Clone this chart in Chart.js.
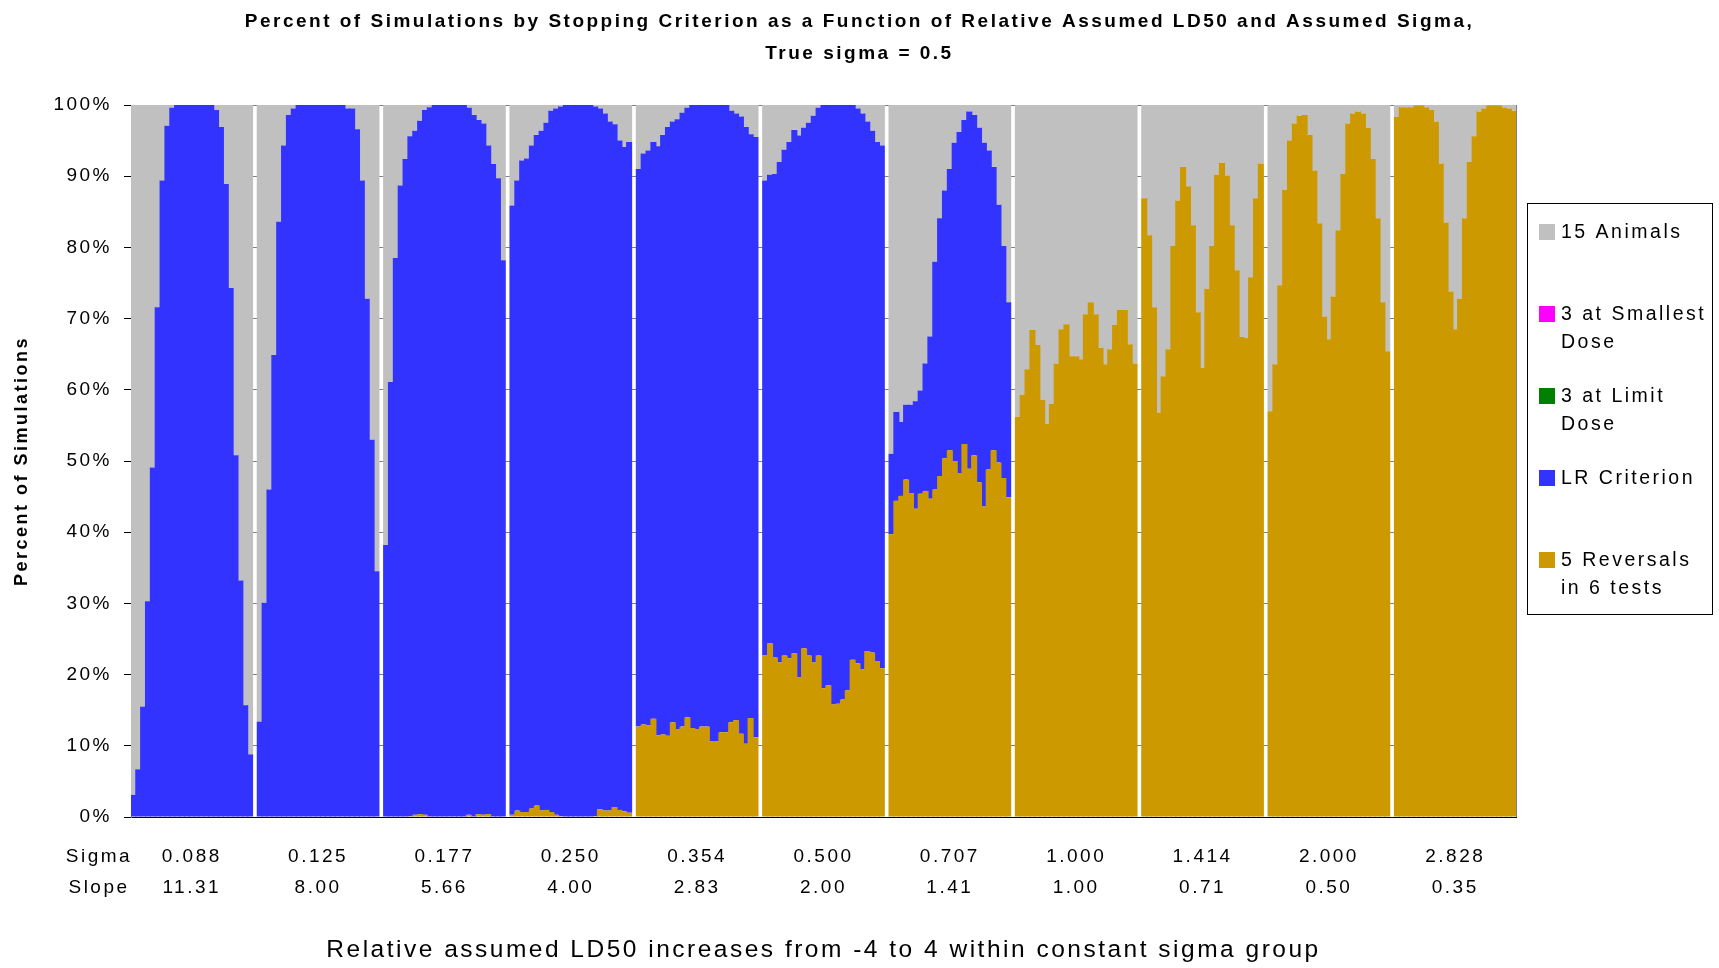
<!DOCTYPE html>
<html>
<head>
<meta charset="utf-8">
<title>Percent of Simulations by Stopping Criterion</title>
<script src="https://cdn.jsdelivr.net/npm/chart.js@4.4.1/dist/chart.umd.min.js"></script>
<style>
  body { margin: 0; background: #fff; }
  canvas { display: block; }
</style>
</head>
<body>
<canvas id="grafico" width="1719" height="968"></canvas>
<script>
// one group per assumed sigma, 25 bars each (relative assumed LD50 from -4 to 4)
const sigmas = ['0.088', '0.125', '0.177', '0.250', '0.354', '0.500', '0.707', '1.000', '1.414', '2.000', '2.828'];
const slopes = ['11.31', '8.00', '5.66', '4.00', '2.83', '2.00', '1.41', '1.00', '0.71', '0.50', '0.35'];

// percent of simulations
const reversals5 = [
    [0,0,0,0,0,0,0,0,0,0,0,0,0,0,0,0,0,0,0,0,0,0,0,0,0],
    [0,0,0,0,0,0,0,0,0,0,0,0,0,0,0,0,0,0,0,0,0,0,0,0,0],
    [0,0,0,0,0,0.1,0.3,0.4,0.3,0,0,0,0,0,0,0,0,0.3,0,0.4,0.3,0.4,0,0,0],
    [0.3,0.9,0.7,0.7,1.2,1.6,0.9,1.0,0.7,0.3,0.1,0,0,0,0,0,0,0.1,1.1,0.9,0.9,1.4,1.0,0.8,0.6],
    [12.7,13.0,12.9,13.8,11.5,11.6,11.4,13.3,12.3,12.7,14.0,12.5,12.3,12.7,12.7,10.6,10.6,11.9,11.9,13.3,13.6,11.7,10.3,13.9,11.2],
    [22.7,24.4,22.4,21.7,22.7,22.3,23.0,19.6,23.7,22.7,21.7,22.7,18.1,18.5,15.8,15.9,16.5,17.8,22.1,21.6,20.7,23.3,23.1,21.9,20.9],
    [39.7,44.4,45.1,47.4,45.5,43.3,45.4,45.8,44.7,46.0,47.9,50.4,51.5,50.0,48.3,52.4,48.9,50.8,47.0,43.6,48.8,51.5,49.8,47.6,44.9],
    [56.2,59.3,62.9,68.4,66.3,58.6,55.2,58.0,63.7,68.5,69.2,64.7,64.7,64.3,70.6,72.3,70.6,65.9,63.6,65.7,69.1,71.2,71.2,66.4,63.7],
    [86.9,81.7,71.6,56.8,61.9,65.7,80.2,86.6,91.3,88.6,83.1,70.9,63.1,74.2,80.2,90.2,91.9,90.1,83.1,76.8,67.4,67.3,75.8,86.9,91.8],
    [57.0,63.6,74.7,88.1,95.0,97.4,98.5,98.6,95.8,90.8,83.4,70.3,67.1,73.1,82.4,90.3,97.4,98.8,99.1,98.8,96.8,92.4,84.1,72.3,65.4],
    [98.3,99.7,99.7,99.7,99.9,99.9,99.7,99.3,97.7,91.8,83.5,73.8,68.5,72.8,84.1,92.0,95.6,99.1,99.5,99.9,99.9,99.9,99.6,99.5,99.2]
];
const lrCriterion = [
    [3.1,6.7,15.5,30.3,49.1,71.6,89.4,97.1,99.6,100,100,100,100,100,100,100,100,99.3,96.9,88.9,74.3,50.8,33.2,15.7,8.8],
    [13.4,30.1,46.0,64.9,83.6,94.3,98.6,99.5,100,100,100,100,100,100,100,100,100,100,99.5,99.5,96.6,89.4,72.8,53.0,34.5],
    [38.2,61.1,78.5,88.7,92.4,95.5,96.1,97.4,99.0,99.7,100,100,100,100,100,100,100,99.3,98.6,97.5,97.1,93.9,91.7,89.7,78.2],
    [85.6,88.5,91.5,91.8,93.1,94.2,95.5,96.5,98.5,99.2,99.7,100,100,100,100,100,100,99.7,98.4,97.9,96.8,95.9,94.0,93.3,94.2],
    [78.3,80.2,80.7,81.0,82.7,84.2,85.5,84.4,85.7,86.2,85.6,87.5,87.7,87.3,87.3,89.4,89.4,88.1,88.1,85.9,85.2,86.7,86.6,82.0,84.3],
    [66.7,65.8,67.9,70.3,71.0,72.5,73.5,76.1,73.1,74.8,76.8,76.9,81.9,81.5,84.2,84.1,83.5,82.2,77.9,77.9,78.1,74.4,73.3,72.9,73.4],
    [11.3,12.5,10.4,10.5,12.4,15.1,14.5,17.9,22.8,32.0,36.2,37.6,39.5,44.7,47.9,45.5,50.2,47.8,49.8,51.1,44.8,39.8,36.2,32.6,27.4],
    [], [], [], []
];
const animals15 = [
    [96.9,93.3,84.5,69.7,50.9,28.4,10.6,2.9,0.4,0,0,0,0,0,0,0,0,0.7,3.1,11.1,25.7,49.2,66.8,84.3,91.2],
    [86.6,69.9,54.0,35.1,16.4,5.7,1.4,0.5,0,0,0,0,0,0,0,0,0,0,0.5,0.5,3.4,10.6,27.2,47.0,65.5],
    [61.8,38.9,21.5,11.3,7.6,4.4,3.6,2.2,0.7,0.3,0,0,0,0,0,0,0,0.4,1.4,2.1,2.6,5.7,8.3,10.3,21.8],
    [14.1,10.6,7.8,7.5,5.7,4.2,3.6,2.5,0.8,0.5,0.2,0,0,0,0,0,0,0.2,0.5,1.2,2.3,2.7,5.0,5.9,5.2],
    [9.0,6.8,6.4,5.2,5.8,4.2,3.1,2.3,2.0,1.1,0.4,0,0,0,0,0,0,0,0,0.8,1.2,1.6,3.1,4.1,4.5],
    [10.6,9.8,9.7,8.0,6.3,5.2,3.5,4.3,3.2,2.5,1.5,0.4,0,0,0,0,0,0,0,0.5,1.2,2.3,3.6,5.2,5.7],
    [49.0,43.1,44.5,42.1,42.1,41.6,40.1,36.3,32.5,22.0,15.9,12.0,9.0,5.3,3.8,2.1,0.9,1.4,3.2,5.3,6.4,8.7,14.0,19.8,27.7],
    [43.8,40.7,37.1,31.6,33.7,41.4,44.8,42.0,36.3,31.5,30.8,35.3,35.3,35.7,29.4,27.7,29.4,34.1,36.4,34.3,30.9,28.8,28.8,33.6,36.3],
    [13.1,18.3,28.4,43.2,38.1,34.3,19.8,13.4,8.7,11.4,16.9,29.1,36.9,25.8,19.8,9.8,8.1,9.9,16.9,23.2,32.6,32.7,24.2,13.1,8.2],
    [43.0,36.4,25.3,11.9,5.0,2.6,1.5,1.4,4.2,9.2,16.6,29.7,32.9,26.9,17.6,9.7,2.6,1.2,0.9,1.2,3.2,7.6,15.9,27.7,34.6],
    [1.7,0.3,0.3,0.3,0.1,0.1,0.3,0.7,2.3,8.2,16.5,26.2,31.5,27.2,15.9,8.0,4.4,0.9,0.5,0.1,0.1,0.1,0.4,0.5,0.8]
];
// these two criteria never show up in any group
const smallestDose3 = [];
const limitDose3 = [];

const BARS = 25;
const SLOT = BARS + 1; // one empty slot between groups

// flatten the groups into one category axis, a blank slot between groups
function flatten(groups) {
    const out = [];
    for (let g = 0; g < sigmas.length; g++) {
        if (g > 0) out.push(null);
        const vals = groups[g] || [];
        for (let k = 0; k < BARS; k++) out.push(vals[k] ?? null);
    }
    return out;
}

const labels = [];
sigmas.forEach((s, g) => {
    if (g > 0) labels.push('');
    for (let k = 0; k < BARS; k++) labels.push(s);
});

Chart.defaults.font.family = '"Liberation Sans", Arial, sans-serif';
Chart.defaults.color = '#000';

const legendItems = [
    { lines: ['15 Animals'], color: '#C0C0C0', top: 224 },
    { lines: ['3 at Smallest', 'Dose'], color: '#FF00FF', top: 306 },
    { lines: ['3 at Limit', 'Dose'], color: '#008000', top: 388 },
    { lines: ['LR Criterion'], color: '#3333FF', top: 470 },
    { lines: ['5 Reversals', 'in 6 tests'], color: '#CC9900', top: 552 }
];

const extras = {
    id: 'extras',
    beforeDraw(chart) {
        chart.ctx.letterSpacing = '2.5px';
    },
    afterDraw(chart) {
        const ctx = chart.ctx;
        const area = chart.chartArea;
        ctx.save();
        // right edge of the plot area
        ctx.strokeStyle = '#808080';
        ctx.lineWidth = 1;
        ctx.beginPath();
        ctx.moveTo(Math.round(area.right) + 0.5, area.top);
        ctx.lineTo(Math.round(area.right) + 0.5, area.bottom);
        ctx.stroke();

        // row titles for the two-line category labels
        const xs = chart.scales.x;
        const y0 = xs.top + 24.5 + 15.5;
        ctx.fillStyle = '#000';
        ctx.font = '19px "Liberation Sans", Arial, sans-serif';
        ctx.textAlign = 'center';
        ctx.textBaseline = 'middle';
        ctx.fillText('Sigma', 99, y0);
        ctx.fillText('Slope', 99, y0 + 31);

        // legend box
        ctx.strokeStyle = '#000';
        ctx.strokeRect(1527.5, 203.5, 185, 411);
        ctx.textAlign = 'left';
        ctx.textBaseline = 'alphabetic';
        ctx.font = '19.5px "Liberation Sans", Arial, sans-serif';
        legendItems.forEach(item => {
            ctx.fillStyle = item.color;
            ctx.fillRect(1539, item.top, 16, 16);
            ctx.fillStyle = '#000';
            item.lines.forEach((line, i) => {
                ctx.fillText(line, 1561, item.top + 14 + i * 27.5);
            });
        });
        ctx.restore();
    }
};

// bars a little wider than their slot so neighbours overlap and leave no seams
const barStyle = { borderWidth: 0, barPercentage: 1.25, categoryPercentage: 1 };

new Chart(document.getElementById('grafico'), {
    type: 'bar',
    data: {
        labels: labels,
        datasets: [
            { label: '5 Reversals in 6 tests', data: flatten(reversals5), backgroundColor: '#CC9900', ...barStyle },
            { label: 'LR Criterion', data: flatten(lrCriterion), backgroundColor: '#3333FF', ...barStyle },
            { label: '3 at Limit Dose', data: flatten(limitDose3), backgroundColor: '#008000', ...barStyle },
            { label: '3 at Smallest Dose', data: flatten(smallestDose3), backgroundColor: '#FF00FF', ...barStyle },
            { label: '15 Animals', data: flatten(animals15), backgroundColor: '#C0C0C0', ...barStyle }
        ]
    },
    options: {
        responsive: false,
        animation: false,
        layout: { padding: 0 },
        plugins: {
            legend: { display: false },
            tooltip: { enabled: false },
            title: {
                display: true,
                text: ['Percent of Simulations by Stopping Criterion as a Function of Relative Assumed LD50 and Assumed Sigma,',
                       'True sigma = 0.5'],
                color: '#000',
                font: { size: 19, weight: 'bold', lineHeight: '32px' },
                padding: { top: 6, bottom: 35 }
            }
        },
        scales: {
            x: {
                stacked: true,
                grid: { display: false, drawTicks: false },
                border: { color: '#000' },
                ticks: {
                    autoSkip: false,
                    maxRotation: 0,
                    minRotation: 0,
                    padding: 24.5,
                    color: '#000',
                    font: { size: 19, lineHeight: '31px' },
                    callback: function(value, index) {
                        if (index % SLOT !== 12) return '';
                        const g = Math.floor(index / SLOT);
                        return [sigmas[g], slopes[g]];
                    }
                },
                title: {
                    display: true,
                    text: 'Relative assumed LD50 increases from -4 to 4 within constant sigma group',
                    color: '#000',
                    font: { size: 24.5 },
                    padding: { top: 0, bottom: 3 }
                },
                afterFit: function(scale) { scale.height = 151; }
            },
            y: {
                stacked: true,
                min: 0,
                max: 100,
                grid: { color: '#808080', tickColor: '#000', tickLength: 7 },
                border: { color: '#808080' },
                ticks: {
                    stepSize: 10,
                    padding: 12,
                    color: '#000',
                    font: { size: 19 },
                    callback: function(value) { return value + '%'; }
                },
                title: {
                    display: true,
                    text: 'Percent of Simulations',
                    color: '#000',
                    font: { size: 18, weight: 'bold' },
                    padding: { top: 11, bottom: 0 }
                },
                afterFit: function(scale) { scale.width = 131; }
            },
            // empty box on the right that keeps room for the legend
            side: {
                position: 'right',
                display: true,
                grid: { display: false, drawTicks: false },
                border: { display: false },
                ticks: { display: false },
                afterFit: function(scale) { scale.width = 203; }
            }
        }
    },
    plugins: [extras]
});
</script>
</body>
</html>
